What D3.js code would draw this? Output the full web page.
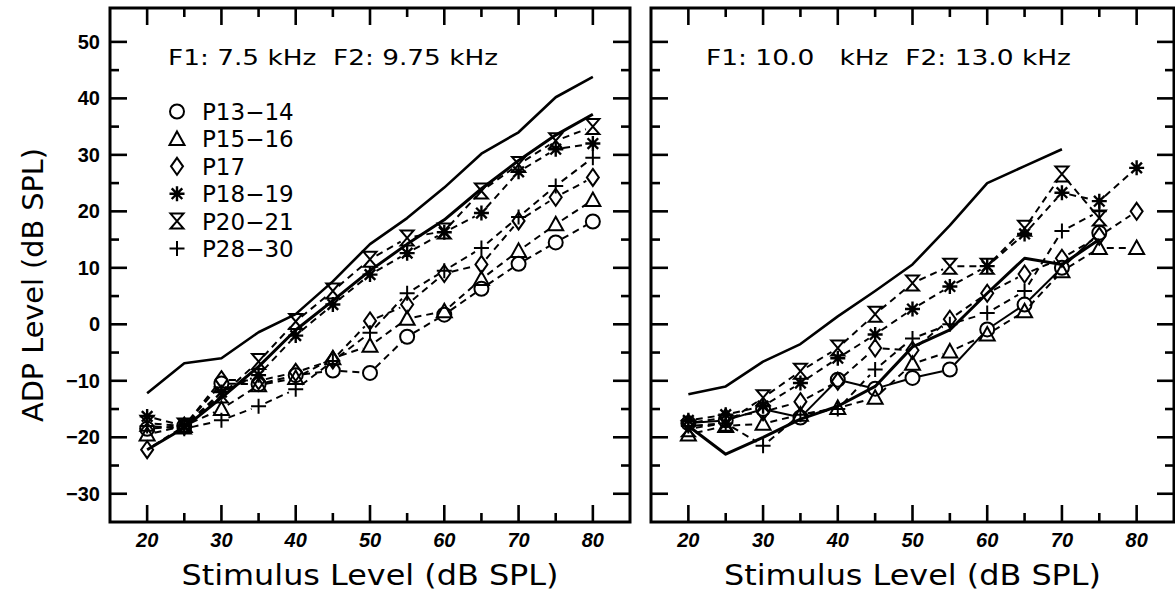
<!DOCTYPE html>
<html><head><meta charset="utf-8">
<script src="https://cdn.jsdelivr.net/npm/d3@7"></script>
<style>body{margin:0;background:#fff}</style>
</head><body>
<svg id="chart" width="1175" height="594"></svg>
<script>
// ---------- data ----------
const levels = [20,25,30,35,40,45,50,55,60,65,70,75,80];
const xTicksMajor = [20,30,40,50,60,70,80];
const xTicksMinor = [25,35,45,55,65,75];
const yTicksMajor = [-30,-20,-10,0,10,20,30,40,50];
const yTicksMinor = [-25,-15,-5,5,15,25,35,45];
const seriesNames = ["P13−14","P15−16","P17","P18−19","P20−21","P28−30"];
const seriesSymbols = ["circle","triangle","diamond","asterisk","hourglass","plus"];

// left panel: F1 7.5 kHz, F2 9.75 kHz
const leftUpper = [-12.2,-6.9,-6,-1.4,1.8,7.6,14.2,18.8,24.2,30.2,34,40.2,43.8];
const leftLower = [-22.2,-18.3,-13,-7.5,-1,4.2,9.5,14.2,18.5,24,29,33.5,37.2];
const leftP1314 = [-18.5,-18,-10.5,-10.6,-9,-8.2,-8.6,-2.2,1.7,6.3,10.7,14.5,18.2];
const leftP1516 = [-19.5,-18,-15,-10.8,-9.5,-6,-3.8,1,2.3,8,13,17.7,22];
const leftP17   = [-22.2,-18,-9.8,-10,-8.5,-6.3,0.6,3.5,9,10.6,18.3,22.5,26];
const leftP1819 = [-16.3,-18,-12,-9,-2,3.5,8.8,12.6,16.3,19.7,27,31,32];
const leftP2021 = [-17.5,-18,-12.5,-6.6,0.5,5.9,11.5,15.3,16.5,23.6,28.3,32.5,35];
const leftP2830 = [-18,-18.5,-17,-14.5,-11.5,-6.5,-1.5,5.5,9.5,13.5,19,24.5,29.5];

// right panel: F1 10.0 kHz, F2 13.0 kHz
const rightUpper = [-12.4,-11,-6.6,-3.5,1.4,5.9,10.6,17.5,25,28,31];
const rightLower = [-18,-23,-20,-16.8,-14.5,-11,-4,-1,5.5,11.7,10.6,15];
const rightP1314 = [-17.5,-17,-15,-16.5,-9.8,-11.4,-9.5,-8,-0.9,3.5,10,16.2];
const rightP1516 = [-19.5,-18,-17.6,-16,-14.8,-13,-7,-4.8,-1.8,2.3,9.4,13.5,13.5];
const rightP17   = [-17.5,-16.5,-15.5,-13.7,-10.1,-4.2,-4.6,0.9,5.5,8.9,11.7,15.6,20];
const rightP1819 = [-17,-16,-14.5,-10.4,-6,-1.8,2.7,6.7,10.3,16,23.3,21.8,27.7];
const rightP2021 = [-18.5,-17.5,-13,-8.3,-4.2,1.8,7.3,10.3,10.3,17,26.6,18.8];
const rightP2830 = [-18,-17.5,-21.5,-16,-15,-8,-2.5,0,2,5.9,16.5,20];

// ---------- drawing ----------
const svg = d3.select("#chart");
svg.append("rect").attr("width",1175).attr("height",594).attr("fill","#fff");

const yScale = d3.scaleLinear().domain([-35,56]).range([522,8]);
const FONT = "'DejaVu Sans', sans-serif";
const LAB = "'Liberation Sans', Arial, sans-serif";

const symbolPath = {
  triangle: "M0,-7.5L7.5,6L-7.5,6Z",
  diamond: "M0,-8.5L6,0L0,8.5L-6,0Z",
  asterisk: "M0,-7.5V7.5M-7.5,0H7.5M-5.3,-5.3L5.3,5.3M-5.3,5.3L5.3,-5.3",
  hourglass: "M-6.5,-7.5H6.5L-6.5,7.5H6.5Z",
  plus: "M-7.5,0H7.5M0,-7.5V7.5"
};
function drawSymbol(g, type, x, y){
  if(type==="circle"){
    g.append("circle").attr("cx",x).attr("cy",y).attr("r",7)
     .attr("fill","none").attr("stroke","#000").attr("stroke-width",2);
  } else {
    g.append("path").attr("d",symbolPath[type]).attr("transform",`translate(${x},${y})`)
     .attr("fill","none").attr("stroke","#000").attr("stroke-width",type==="asterisk"?2.4:2);
  }
}

const panels = [
  {range:[110,630], note:"F1: 7.5 kHz  F2: 9.75 kHz", noteX:168, noteLen:330,
   upper:leftUpper, lower:leftLower,
   series:[leftP1314,leftP1516,leftP17,leftP1819,leftP2021,leftP2830],
   solidCircles:false, yLabels:true, legend:true},
  {range:[651,1174], note:"F1: 10.0   kHz  F2: 13.0 kHz", noteX:706, noteLen:365,
   upper:rightUpper, lower:rightLower,
   series:[rightP1314,rightP1516,rightP17,rightP1819,rightP2021,rightP2830],
   solidCircles:true, yLabels:false, legend:false}
];

panels.forEach(p=>{
  const x = d3.scaleLinear().domain([15,85]).range(p.range);
  const g = svg.append("g");
  const L = p.range[0], R = p.range[1], T = yScale.range()[1], B = yScale.range()[0];

  // ticks (inward, all four sides)
  const tk = g.append("g").attr("stroke","#000").attr("stroke-width",2.6);
  const xt = xTicksMajor.map(v=>[v,17]).concat(xTicksMinor.map(v=>[v,9]));
  xt.forEach(([v,len])=>{
    tk.append("line").attr("x1",x(v)).attr("x2",x(v)).attr("y1",B).attr("y2",B-len);
    tk.append("line").attr("x1",x(v)).attr("x2",x(v)).attr("y1",T).attr("y2",T+len);
  });
  const yt = yTicksMajor.map(v=>[v,17]).concat(yTicksMinor.map(v=>[v,9]));
  yt.forEach(([v,len])=>{
    tk.append("line").attr("y1",yScale(v)).attr("y2",yScale(v)).attr("x1",L).attr("x2",L+len);
    tk.append("line").attr("y1",yScale(v)).attr("y2",yScale(v)).attr("x1",R).attr("x2",R-len);
  });
  g.append("rect").attr("x",L).attr("y",T).attr("width",R-L).attr("height",B-T)
   .attr("fill","none").attr("stroke","#000").attr("stroke-width",3);

  // x tick labels
  xTicksMajor.forEach(v=>{
    g.append("text").attr("x",x(v)).attr("y",547).attr("text-anchor","middle")
     .attr("font-family",LAB).attr("font-size",20).attr("font-style","italic")
     .attr("font-weight","bold").text(v);
  });
  if(p.yLabels){
    yTicksMajor.forEach(v=>{
      g.append("text").attr("x",100).attr("y",yScale(v)+7).attr("text-anchor","end")
       .attr("font-family",LAB).attr("font-size",20).attr("font-weight","bold")
       .text(v<0?"−"+Math.abs(v):v);
    });
  }
  // x axis title
  g.append("text").attr("x",(L+R)/2).attr("y",585).attr("text-anchor","middle")
   .attr("font-family",FONT).attr("font-size",29)
   .attr("textLength",377).attr("lengthAdjust","spacingAndGlyphs")
   .text("Stimulus Level (dB SPL)");
  // annotation
  g.append("text").attr("x",p.noteX).attr("y",65).attr("font-family",FONT)
   .attr("font-size",20.5).attr("xml:space","preserve").style("white-space","pre")
   .attr("textLength",p.noteLen).attr("lengthAdjust","spacingAndGlyphs").text(p.note);

  // solid reference lines
  const line = d3.line().x((d,i)=>x(levels[i])).y(d=>yScale(d));
  g.append("path").datum(p.upper).attr("d",line).attr("fill","none")
   .attr("stroke","#000").attr("stroke-width",2.6).attr("stroke-linejoin","round");
  g.append("path").datum(p.lower).attr("d",line).attr("fill","none")
   .attr("stroke","#000").attr("stroke-width",3).attr("stroke-linejoin","round");

  // series: trimmed segments + open markers
  const r = 7.5;
  p.series.forEach((vals,si)=>{
    const pts = vals.map((v,i)=>[x(levels[i]), yScale(v)]);
    const solid = p.solidCircles && si===0;
    for(let i=0;i<pts.length-1;i++){
      const [x1,y1]=pts[i],[x2,y2]=pts[i+1];
      const dx=x2-x1, dy=y2-y1, d=Math.hypot(dx,dy);
      if(d<=2*r) continue;
      g.append("line").attr("x1",x1+dx*r/d).attr("y1",y1+dy*r/d)
       .attr("x2",x2-dx*r/d).attr("y2",y2-dy*r/d)
       .attr("stroke","#000").attr("stroke-width",2)
       .attr("stroke-dasharray",solid?null:"7,5");
    }
    pts.forEach(([px,py])=>drawSymbol(g, seriesSymbols[si], px, py));
  });

  if(p.legend){
    seriesNames.forEach((n,i)=>{
      const cy = 111.5 + i*27.4;
      drawSymbol(g, seriesSymbols[i], 177, cy);
      g.append("text").attr("x",202).attr("y",cy+8.4).attr("font-family",FONT)
       .attr("font-size",23).text(n);
    });
  }
});

// y axis title
svg.append("text").attr("transform","translate(43,285) rotate(-90)")
  .attr("text-anchor","middle").attr("font-family",FONT).attr("font-size",28)
  .attr("textLength",274).attr("lengthAdjust","spacingAndGlyphs")
  .text("ADP Level (dB SPL)");
</script>
</body></html>
